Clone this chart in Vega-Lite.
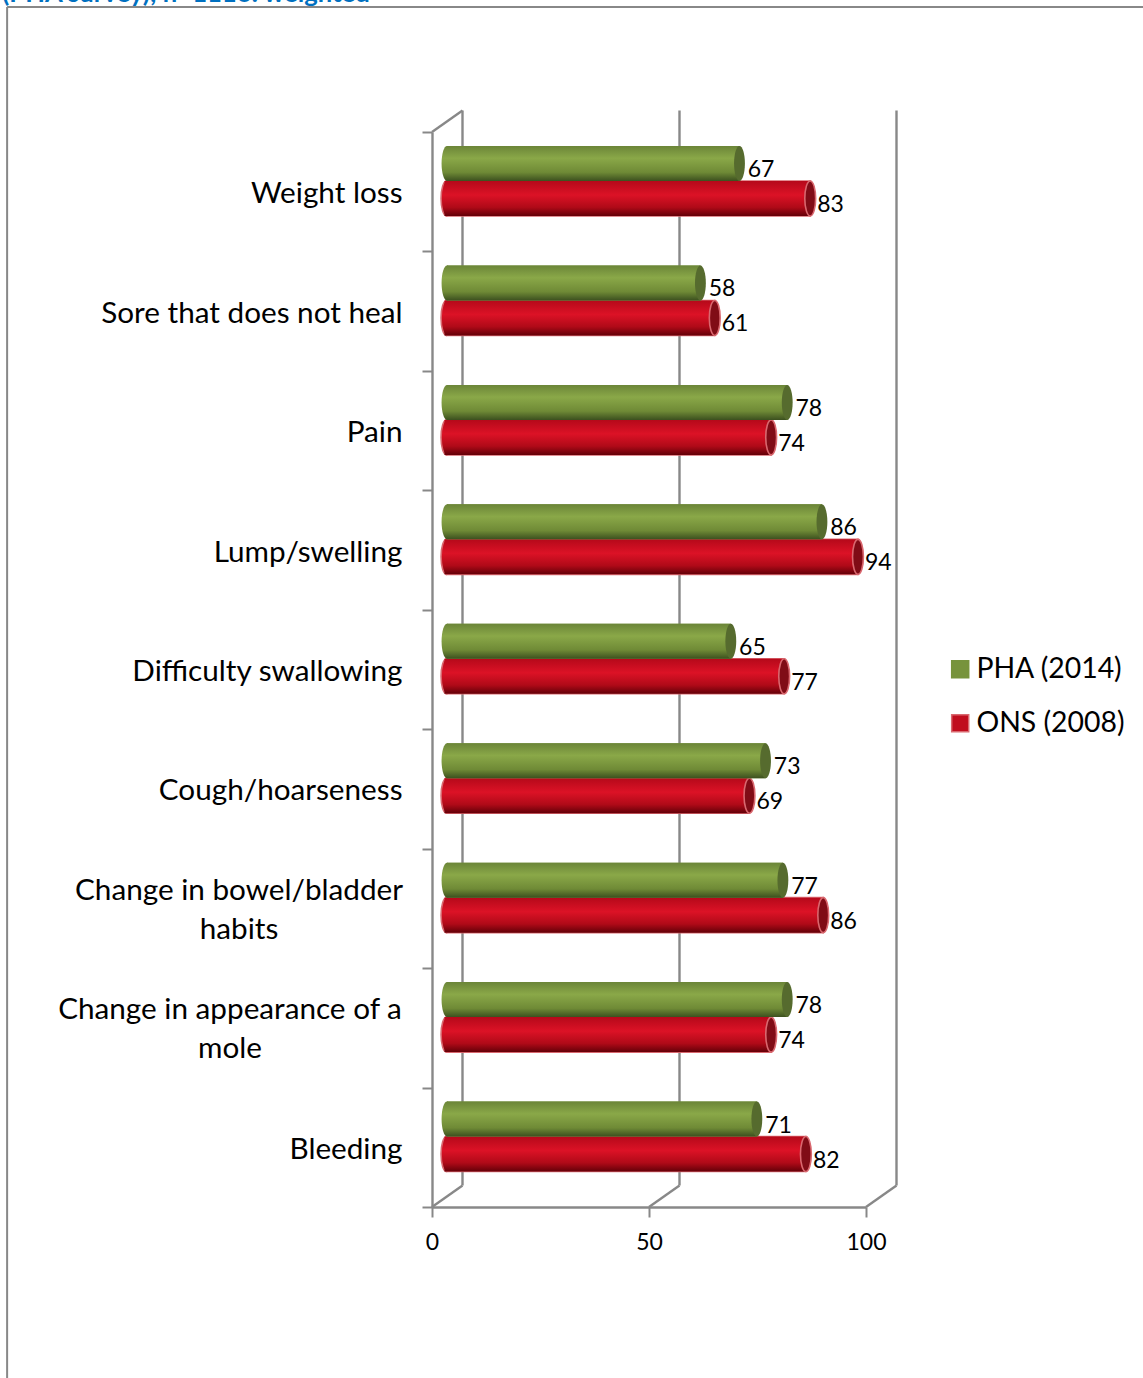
{
  "$schema": "https://vega.github.io/schema/vega-lite/v6.json",
  "width": 434,
  "height": 1075,
  "autosize": {"type": "none"},
  "padding": {"left": 432, "top": 132, "right": 277, "bottom": 171},
  "background": "white",
  "config": {"view": {"stroke": null}, "font": "Lato"},
  "data": {"values": [
    {"category": "Weight loss", "series": "PHA (2014)", "value": 67},
    {"category": "Weight loss", "series": "ONS (2008)", "value": 83},
    {"category": "Sore that does not heal", "series": "PHA (2014)", "value": 58},
    {"category": "Sore that does not heal", "series": "ONS (2008)", "value": 61},
    {"category": "Pain", "series": "PHA (2014)", "value": 78},
    {"category": "Pain", "series": "ONS (2008)", "value": 74},
    {"category": "Lump/swelling", "series": "PHA (2014)", "value": 86},
    {"category": "Lump/swelling", "series": "ONS (2008)", "value": 94},
    {"category": "Difficulty swallowing", "series": "PHA (2014)", "value": 65},
    {"category": "Difficulty swallowing", "series": "ONS (2008)", "value": 77},
    {"category": "Cough/hoarseness", "series": "PHA (2014)", "value": 73},
    {"category": "Cough/hoarseness", "series": "ONS (2008)", "value": 69},
    {"category": "Change in bowel/bladder habits", "series": "PHA (2014)", "value": 77},
    {"category": "Change in bowel/bladder habits", "series": "ONS (2008)", "value": 86},
    {"category": "Change in appearance of a mole", "series": "PHA (2014)", "value": 78},
    {"category": "Change in appearance of a mole", "series": "ONS (2008)", "value": 74},
    {"category": "Bleeding", "series": "PHA (2014)", "value": 71},
    {"category": "Bleeding", "series": "ONS (2008)", "value": 82}
  ]},
  "resolve": {"scale": {"y": "independent"}},
  "layer": [
    {
      "data": {"values": [{"tick": 0}, {"tick": 50}, {"tick": 100}]},
      "layer": [
        {
          "mark": {"type": "rule", "color": "#888888", "strokeWidth": 2.4, "xOffset": 30.5, "x2Offset": 30.5, "yOffset": -21.5, "y2Offset": -21.5},
          "encoding": {
            "x": {"field": "tick", "type": "quantitative", "scale": {"domain": [0, 100]}, "axis": {"values": [0, 50, 100], "title": null, "grid": false, "domainColor": "#888888", "domainWidth": 2.4, "tickColor": "#888888", "tickWidth": 2, "tickSize": 10, "labelFont": "Lato", "labelFontSize": 23, "labelColor": "#000000", "labelPadding": 14, "labelFlush": false}},
            "x2": {"field": "tick"},
            "y": {"datum": 0, "type": "quantitative", "scale": {"domain": [0, 1]}, "axis": null},
            "y2": {"datum": 1}
          }
        },
        {
          "mark": {"type": "rule", "color": "#888888", "strokeWidth": 2.4, "x2Offset": 30.5, "y2Offset": -21.5},
          "encoding": {
            "x": {"field": "tick", "type": "quantitative", "scale": {"domain": [0, 100]}},
            "x2": {"field": "tick"},
            "y": {"datum": 0, "type": "quantitative", "scale": {"domain": [0, 1]}, "axis": null},
            "y2": {"datum": 0}
          }
        },
        {
          "transform": [{"filter": "datum.tick == 0"}],
          "mark": {"type": "rule", "color": "#888888", "strokeWidth": 2.4, "x2Offset": 30.5, "y2Offset": -21.5},
          "encoding": {
            "x": {"field": "tick", "type": "quantitative", "scale": {"domain": [0, 100]}},
            "x2": {"field": "tick"},
            "y": {"datum": 1, "type": "quantitative", "scale": {"domain": [0, 1]}, "axis": null},
            "y2": {"datum": 1}
          }
        },
        {
          "transform": [{"filter": "datum.tick == 0"}],
          "mark": {"type": "rule", "color": "#888888", "strokeWidth": 2},
          "encoding": {
            "x": {"datum": -97.9, "type": "quantitative", "scale": {"domain": [0, 100]}},
            "x2": {"datum": -97.9},
            "y": {"datum": -0.16, "type": "quantitative", "scale": {"domain": [0, 1]}, "axis": null},
            "y2": {"datum": 1.1163}
          }
        },
        {
          "transform": [{"filter": "datum.tick == 0"}],
          "mark": {"type": "rule", "color": "#888888", "strokeWidth": 2},
          "encoding": {
            "x": {"datum": -97.9, "type": "quantitative", "scale": {"domain": [0, 100]}},
            "x2": {"datum": 163.9},
            "y": {"datum": 1.1163, "type": "quantitative", "scale": {"domain": [0, 1]}, "axis": null},
            "y2": {"datum": 1.1163}
          }
        },
        {
          "transform": [{"filter": "datum.tick == 0"}],
          "mark": {"type": "text", "align": "left", "baseline": "alphabetic", "font": "Lato", "fontWeight": "bold", "fontSize": 25.6, "color": "#0070C0", "text": "(PHA survey); n=1116: weighted"},
          "encoding": {
            "x": {"datum": -99, "type": "quantitative", "scale": {"domain": [0, 100]}},
            "y": {"datum": 1.1207, "type": "quantitative", "scale": {"domain": [0, 1]}, "axis": null}
          }
        }
      ]
    },
    {
      "encoding": {
        "y": {
          "field": "category", "type": "nominal",
          "scale": {"type": "band", "paddingInner": 0, "paddingOuter": 0, "domain": ["Weight loss", "Sore that does not heal", "Pain", "Lump/swelling", "Difficulty swallowing", "Cough/hoarseness", "Change in bowel/bladder habits", "Change in appearance of a mole", "Bleeding"]},
          "axis": {
            "title": null, "grid": false, "domainColor": "#888888", "domainWidth": 2.4, "tickColor": "#888888", "tickWidth": 2, "tickSize": 10, "tickBand": "extent",
            "labelFont": "Lato", "labelFontSize": 29.7, "labelColor": "#000000", "labelPadding": 20, "labelLimit": 400, "labelLineHeight": 39,
            "labelExpr": "datum.value == 'Change in bowel/bladder habits' ? ['Change in bowel/bladder', 'habits'] : datum.value == 'Change in appearance of a mole' ? ['Change in appearance of a', 'mole'] : datum.label",
            "encoding": {"labels": {
              "align": {"condition": {"test": "datum.value == 'Change in bowel/bladder habits' || datum.value == 'Change in appearance of a mole'", "value": "center"}, "value": "right"},
              "dx": {"condition": [
                {"test": "datum.value == 'Change in bowel/bladder habits'", "value": -163.5},
                {"test": "datum.value == 'Change in appearance of a mole'", "value": -172.5}
              ], "value": 0},
              "dy": {"condition": {"test": "datum.value == 'Change in bowel/bladder habits' || datum.value == 'Change in appearance of a mole'", "value": -18}, "value": 2}
            }}
          }
        },
        "yOffset": {"field": "series", "type": "nominal", "scale": {"type": "band", "domain": ["PHA (2014)", "ONS (2008)"], "range": [14, 84], "paddingInner": 0, "paddingOuter": 0}}
      },
      "layer": [
        {
          "transform": [{"filter": "datum.series == 'ONS (2008)'"}],
          "mark": {"type": "point", "shape": "M0,-1A0.31,1,0,1,0,0,1A0.31,1,0,1,0,0,-1Z", "size": 1225, "filled": true, "opacity": 1, "xOffset": 14.5, "strokeWidth": 1.6, "stroke": "#d9686f", "fill": {"gradient": "linear", "x1": 0, "y1": 0, "x2": 0, "y2": 1, "stops": [{"offset": 0, "color": "#b5091a"}, {"offset": 0.4, "color": "#dc1226"}, {"offset": 0.75, "color": "#b00a18"}, {"offset": 1, "color": "#640008"}]}},
          "encoding": {"x": {"datum": 0, "type": "quantitative", "scale": {"domain": [0, 100]}}}
        },
        {
          "transform": [{"filter": "datum.series == 'ONS (2008)'"}],
          "mark": {"type": "bar", "xOffset": 18, "x2Offset": 14.5, "strokeWidth": 1.6, "opacity": 1},
          "encoding": {
            "x": {"field": "value", "type": "quantitative", "stack": null, "scale": {"domain": [0, 100]}},
            "x2": {"datum": 0},
            "color": {"field": "series", "type": "nominal", "scale": {"domain": ["PHA (2014)", "ONS (2008)"], "range": ["#77933c", "#c00d1e"]}, "legend": {"title": null, "orient": "none", "legendX": 514, "legendY": 523, "symbolType": "square", "symbolSize": 290, "symbolStrokeWidth": 1.5, "labelFont": "Lato", "labelFontSize": 28.4, "labelColor": "#000000", "labelLimit": 300, "rowPadding": 25, "labelOffset": 2}},
            "stroke": {"field": "series", "type": "nominal", "scale": {"domain": ["PHA (2014)", "ONS (2008)"], "range": ["#77933c", "#d9686f"]}, "legend": {"title": null, "orient": "none", "legendX": 514, "legendY": 523, "symbolType": "square", "symbolSize": 290, "symbolStrokeWidth": 1.5, "labelFont": "Lato", "labelFontSize": 28.4, "labelColor": "#000000", "labelLimit": 300, "rowPadding": 25, "labelOffset": 2}}
          }
        },
        {
          "transform": [{"filter": "datum.series == 'ONS (2008)'"}],
          "mark": {"type": "bar", "xOffset": 18, "x2Offset": 12.5, "opacity": 1, "color": {"gradient": "linear", "x1": 0, "y1": 0, "x2": 0, "y2": 1, "stops": [{"offset": 0, "color": "#b5091a"}, {"offset": 0.4, "color": "#dc1226"}, {"offset": 0.75, "color": "#b00a18"}, {"offset": 1, "color": "#640008"}]}},
          "encoding": {
            "x": {"field": "value", "type": "quantitative", "stack": null, "scale": {"domain": [0, 100]}},
            "x2": {"datum": 0}
          }
        },
        {
          "transform": [{"filter": "datum.series == 'ONS (2008)'"}],
          "mark": {"type": "point", "shape": "M0,-1A0.31,1,0,1,0,0,1A0.31,1,0,1,0,0,-1Z", "size": 1225, "filled": true, "opacity": 1, "xOffset": 18, "strokeWidth": 1.6, "stroke": "#d9686f", "fill": "#800c16"},
          "encoding": {"x": {"field": "value", "type": "quantitative", "scale": {"domain": [0, 100]}}}
        },
        {
          "transform": [{"filter": "datum.series == 'PHA (2014)'"}],
          "mark": {"type": "point", "shape": "M0,-1A0.31,1,0,1,0,0,1A0.31,1,0,1,0,0,-1Z", "size": 1225, "filled": true, "opacity": 1, "xOffset": 15, "fill": {"gradient": "linear", "x1": 0, "y1": 0, "x2": 0, "y2": 1, "stops": [{"offset": 0, "color": "#6b8538"}, {"offset": 0.35, "color": "#8aa848"}, {"offset": 0.75, "color": "#6f8a36"}, {"offset": 1, "color": "#3c501f"}]}},
          "encoding": {"x": {"datum": 0, "type": "quantitative", "scale": {"domain": [0, 100]}}}
        },
        {
          "transform": [{"filter": "datum.series == 'PHA (2014)'"}],
          "mark": {"type": "bar", "xOffset": 16.7, "x2Offset": 15, "strokeWidth": 0, "opacity": 1},
          "encoding": {
            "x": {"field": "value", "type": "quantitative", "stack": null, "scale": {"domain": [0, 100]}},
            "x2": {"datum": 0},
            "color": {"field": "series", "type": "nominal", "scale": {"domain": ["PHA (2014)", "ONS (2008)"], "range": ["#77933c", "#c00d1e"]}},
            "stroke": {"field": "series", "type": "nominal", "scale": {"domain": ["PHA (2014)", "ONS (2008)"], "range": ["#77933c", "#d9686f"]}}
          }
        },
        {
          "transform": [{"filter": "datum.series == 'PHA (2014)'"}],
          "mark": {"type": "bar", "xOffset": 16.7, "x2Offset": 15, "opacity": 1, "color": {"gradient": "linear", "x1": 0, "y1": 0, "x2": 0, "y2": 1, "stops": [{"offset": 0, "color": "#6b8538"}, {"offset": 0.35, "color": "#8aa848"}, {"offset": 0.75, "color": "#6f8a36"}, {"offset": 1, "color": "#3c501f"}]}},
          "encoding": {
            "x": {"field": "value", "type": "quantitative", "stack": null, "scale": {"domain": [0, 100]}},
            "x2": {"datum": 0}
          }
        },
        {
          "transform": [{"filter": "datum.series == 'PHA (2014)'"}],
          "mark": {"type": "point", "shape": "M0,-1A0.31,1,0,1,0,0,1A0.31,1,0,1,0,0,-1Z", "size": 1225, "filled": true, "opacity": 1, "xOffset": 16.7, "fill": "#566b2e"},
          "encoding": {"x": {"field": "value", "type": "quantitative", "scale": {"domain": [0, 100]}}}
        },
        {
          "mark": {"type": "text", "align": "left", "baseline": "middle", "xOffset": 25, "dy": 6.5, "font": "Lato", "fontSize": 23, "color": "#000000"},
          "encoding": {
            "x": {"field": "value", "type": "quantitative", "scale": {"domain": [0, 100]}},
            "text": {"field": "value", "type": "quantitative"}
          }
        }
      ]
    }
  ]
}
